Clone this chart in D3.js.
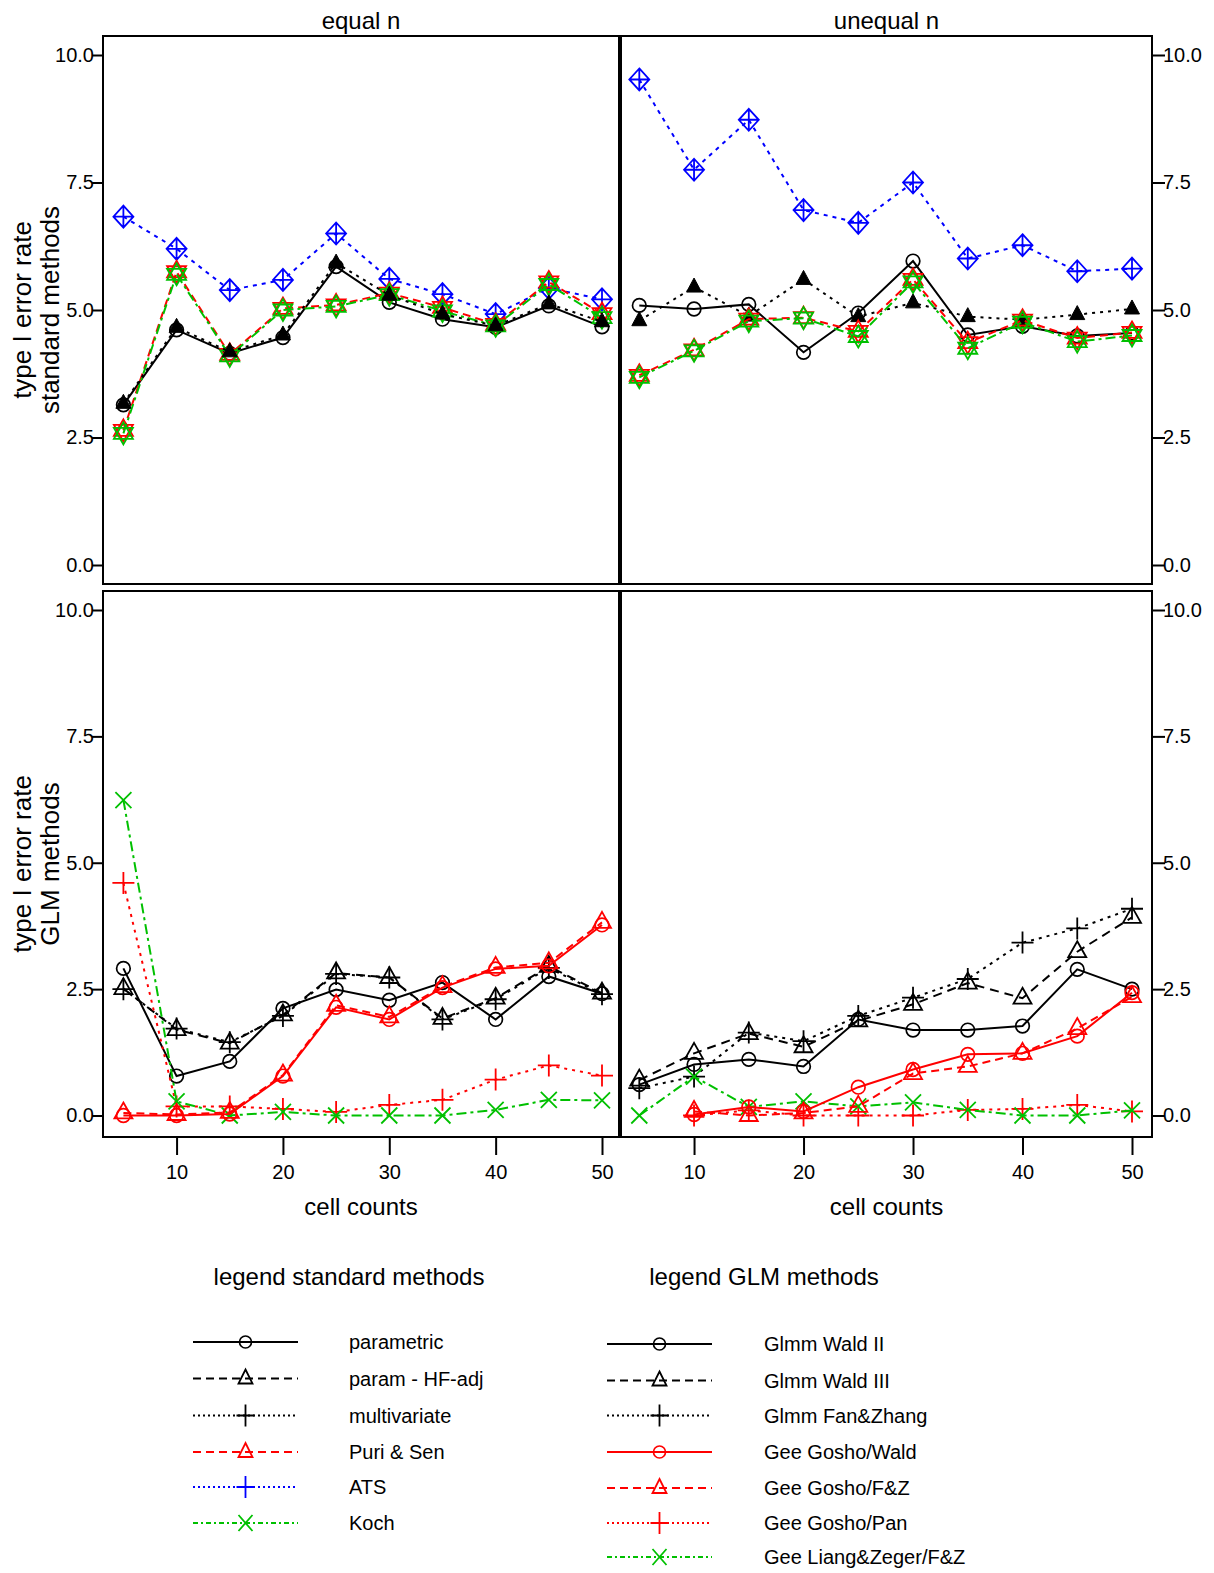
<!DOCTYPE html>
<html>
<head>
<meta charset="utf-8">
<script src="https://cdn.jsdelivr.net/npm/d3@7"></script>
<style>
  body { margin: 0; background: #fff; }
  svg { display: block; font-family: "Liberation Sans", Arial, Helvetica, sans-serif; }
</style>
</head>
<body>
<svg id="chart" width="1214" height="1573"></svg>
<script>
// ---- data -------------------------------------------------------------
const cellCounts = [5, 10, 15, 20, 25, 30, 35, 40, 45, 50];
const yTicks = [0, 2.5, 5, 7.5, 10];
const xTicks = [10, 20, 30, 40, 50];
const panelTitles = ["equal n", "unequal n"];

// standard methods, equal n
const eqParametric   = [3.14, 4.61, 4.15, 4.46, 5.85, 5.15, 4.82, 4.66, 5.08, 4.67];
const eqMultivariate = [3.17, 4.66, 4.18, 4.51, 5.92, 5.29, 4.92, 4.69, 5.12, 4.77];
const eqPuriSen      = [2.64, 5.75, 4.13, 5.03, 5.10, 5.33, 5.05, 4.72, 5.55, 4.93];
const eqATS          = [6.83, 6.20, 5.39, 5.59, 6.50, 5.61, 5.31, 4.92, 5.43, 5.21];
const eqKoch         = [2.58, 5.70, 4.10, 5.00, 5.07, 5.30, 4.98, 4.69, 5.50, 4.85];

// standard methods, unequal n
const uneqParametric   = [5.09, 5.02, 5.11, 4.17, 4.94, 5.96, 4.51, 4.68, 4.49, 4.55];
const uneqMultivariate = [4.79, 5.45, 4.88, 5.60, 4.87, 5.14, 4.87, 4.81, 4.91, 5.02];
const uneqPuriSen      = [3.72, 4.22, 4.82, 4.85, 4.58, 5.60, 4.36, 4.80, 4.45, 4.56];
const uneqATS          = [9.52, 7.75, 8.73, 6.96, 6.71, 7.50, 6.01, 6.27, 5.76, 5.81];
const uneqKoch         = [3.68, 4.20, 4.78, 4.84, 4.48, 5.55, 4.25, 4.76, 4.38, 4.50];

// GLM methods, equal n
const eqWaldII     = [2.91, 0.78, 1.07, 2.12, 2.49, 2.28, 2.63, 1.90, 2.75, 2.41];
const eqWaldIII    = [2.51, 1.70, 1.43, 1.99, 2.82, 2.73, 1.92, 2.32, 2.95, 2.42];
const eqFanZhang   = [2.50, 1.72, 1.45, 1.97, 2.80, 2.73, 1.90, 2.30, 2.92, 2.40];
const eqGoshoWald  = [0.00, 0.00, 0.03, 0.78, 2.14, 1.90, 2.53, 2.90, 2.96, 3.77];
const eqGoshoFZ    = [0.05, 0.02, 0.06, 0.80, 2.18, 1.95, 2.55, 2.93, 3.02, 3.82];
const eqGoshoPan   = [4.60, 0.18, 0.18, 0.13, 0.07, 0.21, 0.31, 0.71, 0.99, 0.79];
const eqLiangZeger = [6.24, 0.28, 0.00, 0.07, 0.00, 0.00, 0.00, 0.11, 0.31, 0.30];

// GLM methods, unequal n
const uneqWaldII     = [0.61, 1.01, 1.11, 0.97, 1.90, 1.69, 1.69, 1.77, 2.89, 2.50];
const uneqWaldIII    = [0.70, 1.23, 1.62, 1.36, 1.87, 2.20, 2.62, 2.32, 3.24, 3.92];
const uneqFanZhang   = [0.54, 0.77, 1.64, 1.47, 1.97, 2.33, 2.70, 3.42, 3.70, 4.09];
const uneqGoshoWald  = [null, 0.02, 0.17, 0.08, 0.56, 0.91, 1.21, 1.23, 1.57, 2.43];
const uneqGoshoFZ    = [null, 0.08, 0.00, 0.05, 0.18, 0.83, 0.97, 1.23, 1.72, 2.35];
const uneqGoshoPan   = [null, 0.00, 0.10, 0.00, 0.00, 0.00, 0.11, 0.13, 0.21, 0.08];
const uneqLiangZeger = [0.00, 0.77, 0.17, 0.28, 0.18, 0.26, 0.11, 0.00, 0.00, 0.10];

const legendStandard = ["parametric", "param - HF-adj", "multivariate", "Puri & Sen", "ATS", "Koch"];
const legendGLM = ["Glmm Wald II", "Glmm Wald III", "Glmm Fan&Zhang", "Gee Gosho/Wald",
                   "Gee Gosho/F&Z", "Gee Gosho/Pan", "Gee Liang&Zeger/F&Z"];

// ---- styles -----------------------------------------------------------
const BLACK = "#000", RED = "#ff0000", GREEN = "#00c000", BLUE = "#0000ff";
const DASH = "9,6", DOT = "3,5", BLUEDOT = "4,5", DASHDOT = "10,4,3,4";

const markerPaths = {
  triOpen: "M0,-10.5L9,5.5L-9,5.5Z",
  triFilled: "M0,-9L7.5,5L-7.5,5Z",
  star: "M0,-11L9.5,5.5L-9.5,5.5ZM0,11L9.5,-5.5L-9.5,-5.5Z",
  diamondPlus: "M0,-11L10,0L0,11L-10,0ZM0,-11V11M-10,0H10",
  plus: "M-11,0H11M0,-11V11",
  cross: "M-8,-8L8,8M-8,8L8,-8",
  legTri: "M0,-9L7,5L-7,5Z",
  legPlus: "M-9,0H9M0,-11V11",
  legCross: "M-7,-8L7,8M-7,8L7,-8"
};

// ---- layout -----------------------------------------------------------
const svg = d3.select("#chart");
const frames = {
  left:  { x0: 103, x1: 619 },
  right: { x0: 621, x1: 1152 },
  top:   { y0: 36, y1: 584 },
  bottom:{ y0: 591, y1: 1137 }
};

const xLeft  = d3.scaleLinear().domain([5, 50]).range([123.4, 602]);
const xRight = d3.scaleLinear().domain([5, 50]).range([639.3, 1132]);
const yTop   = d3.scaleLinear().domain([0, 10]).range([565, 55]);
const yBot   = d3.scaleLinear().domain([0, 10]).range([1115.5, 610]);

const panels = [
  { x: xLeft, y: yTop, col: "left", row: "top", series: [
    { values: eqParametric, color: BLACK, dash: null, marker: "circle" },
    { values: eqATS, color: BLUE, dash: BLUEDOT, marker: "diamondPlus" },
    { values: eqPuriSen, color: RED, dash: "8,5", marker: "star" },
    { values: eqKoch, color: GREEN, dash: DASHDOT, marker: "star" },
    { values: eqMultivariate, color: BLACK, dash: DOT, marker: "triFilled" }
  ]},
  { x: xRight, y: yTop, col: "right", row: "top", series: [
    { values: uneqParametric, color: BLACK, dash: null, marker: "circle" },
    { values: uneqATS, color: BLUE, dash: BLUEDOT, marker: "diamondPlus" },
    { values: uneqMultivariate, color: BLACK, dash: DOT, marker: "triFilled" },
    { values: uneqPuriSen, color: RED, dash: "8,5", marker: "star" },
    { values: uneqKoch, color: GREEN, dash: DASHDOT, marker: "star" }
  ]},
  { x: xLeft, y: yBot, col: "left", row: "bottom", series: [
    { values: eqWaldII, color: BLACK, dash: null, marker: "circle" },
    { values: eqWaldIII, color: BLACK, dash: DASH, marker: "triOpen" },
    { values: eqFanZhang, color: BLACK, dash: DOT, marker: "plus" },
    { values: eqGoshoPan, color: RED, dash: DOT, marker: "plus" },
    { values: eqLiangZeger, color: GREEN, dash: DASHDOT, marker: "cross" },
    { values: eqGoshoFZ, color: RED, dash: "8,5", marker: "triOpen" },
    { values: eqGoshoWald, color: RED, dash: null, marker: "circle" }
  ]},
  { x: xRight, y: yBot, col: "right", row: "bottom", series: [
    { values: uneqWaldII, color: BLACK, dash: null, marker: "circle" },
    { values: uneqWaldIII, color: BLACK, dash: DASH, marker: "triOpen" },
    { values: uneqFanZhang, color: BLACK, dash: DOT, marker: "plus" },
    { values: uneqGoshoPan, color: RED, dash: DOT, marker: "plus" },
    { values: uneqLiangZeger, color: GREEN, dash: DASHDOT, marker: "cross" },
    { values: uneqGoshoFZ, color: RED, dash: "8,5", marker: "triOpen" },
    { values: uneqGoshoWald, color: RED, dash: null, marker: "circle" }
  ]}
];

function drawMarker(g, type, color, r) {
  if (type === "circle") {
    g.append("circle").attr("r", r || 6.8)
      .attr("fill", "none").attr("stroke", color).attr("stroke-width", 1.7);
  } else if (type === "triFilled") {
    g.append("path").attr("d", markerPaths[type]).attr("fill", color).attr("stroke", color).attr("stroke-width", 1);
  } else {
    g.append("path").attr("d", markerPaths[type])
      .attr("fill", "none").attr("stroke", color).attr("stroke-width", 1.8);
  }
}

panels.forEach(p => {
  const g = svg.append("g");
  p.series.forEach(s => {
    const pts = cellCounts.map((c, i) => ({ c, v: s.values[i] }));
    const line = d3.line().defined(d => d.v != null).x(d => p.x(d.c)).y(d => p.y(d.v));
    g.append("path").datum(pts).attr("d", line)
      .attr("fill", "none").attr("stroke", s.color).attr("stroke-width", 2)
      .attr("stroke-dasharray", s.dash);
    pts.filter(d => d.v != null).forEach(d => {
      const m = g.append("g").attr("transform", `translate(${p.x(d.c)},${p.y(d.v)})`);
      drawMarker(m, s.marker, s.color);
    });
  });
  // panel frame
  const fx = frames[p.col], fy = frames[p.row];
  svg.append("rect").attr("x", fx.x0).attr("y", fy.y0)
    .attr("width", fx.x1 - fx.x0).attr("height", fy.y1 - fy.y0)
    .attr("fill", "none").attr("stroke", "#000").attr("stroke-width", 2);
});

// ---- axes -------------------------------------------------------------
function styleAxis(sel, size) {
  sel.select(".domain").remove();
  sel.selectAll(".tick line").attr("stroke", "#000").attr("stroke-width", 2);
  sel.selectAll(".tick text").attr("fill", "#000").style("font-size", size + "px");
}

[yTop, yBot].forEach((ys, k) => {
  const row = k === 0 ? frames.top : frames.bottom;
  svg.append("g").attr("transform", `translate(${frames.left.x0},0)`)
    .call(d3.axisLeft(ys).tickValues(yTicks).tickFormat(d3.format(".1f")).tickSize(11).tickPadding(-2))
    .call(a => styleAxis(a, 20));
  svg.append("g").attr("transform", `translate(${frames.right.x1},0)`)
    .call(d3.axisRight(ys).tickValues(yTicks).tickFormat(d3.format(".1f")).tickSize(13).tickPadding(-2))
    .call(a => styleAxis(a, 20));
});

[xLeft, xRight].forEach(xs => {
  svg.append("g").attr("transform", `translate(0,${frames.bottom.y1})`)
    .call(d3.axisBottom(xs).tickValues(xTicks).tickSize(18).tickPadding(10))
    .call(a => styleAxis(a, 20));
});

// ---- titles and labels -----------------------------------------------
const centers = [(frames.left.x0 + frames.left.x1) / 2, (frames.right.x0 + frames.right.x1) / 2];
panelTitles.forEach((t, i) => {
  svg.append("text").attr("x", centers[i]).attr("y", 29)
    .attr("text-anchor", "middle").style("font-size", "24px").text(t);
  svg.append("text").attr("x", centers[i]).attr("y", 1215)
    .attr("text-anchor", "middle").style("font-size", "24px").text("cell counts");
});

function yLabel(cy, second) {
  const g = svg.append("g").style("font-size", "26px");
  g.append("text").attr("transform", `translate(31,${cy}) rotate(-90)`)
    .attr("text-anchor", "middle").text("type I error rate");
  g.append("text").attr("transform", `translate(59,${cy}) rotate(-90)`)
    .attr("text-anchor", "middle").text(second);
}
yLabel((frames.top.y0 + frames.top.y1) / 2, "standard methods");
yLabel((frames.bottom.y0 + frames.bottom.y1) / 2, "GLM methods");

// ---- legends ----------------------------------------------------------
const legStdStyle = [
  { color: BLACK, dash: null, marker: "circle" },
  { color: BLACK, dash: "8,5", marker: "legTri" },
  { color: BLACK, dash: "2,3", marker: "legPlus" },
  { color: RED, dash: "8,5", marker: "legTri" },
  { color: BLUE, dash: "2,3", marker: "legPlus" },
  { color: GREEN, dash: "5,3,2,3", marker: "legCross" }
];
const legGLMStyle = [
  { color: BLACK, dash: null, marker: "circle" },
  { color: BLACK, dash: "8,5", marker: "legTri" },
  { color: BLACK, dash: "2,3", marker: "legPlus" },
  { color: RED, dash: null, marker: "circle" },
  { color: RED, dash: "8,5", marker: "legTri" },
  { color: RED, dash: "2,3", marker: "legPlus" },
  { color: GREEN, dash: "5,3,2,3", marker: "legCross" }
];

function drawLegend(title, titleX, labels, styles, x0, x1, tx, rowY) {
  svg.append("text").attr("x", titleX).attr("y", 1285)
    .attr("text-anchor", "middle").style("font-size", "24px").text(title);
  labels.forEach((lab, i) => {
    const y = rowY[i], st = styles[i];
    svg.append("line").attr("x1", x0).attr("x2", x1).attr("y1", y).attr("y2", y)
      .attr("stroke", st.color).attr("stroke-width", 2).attr("stroke-dasharray", st.dash);
    const m = svg.append("g").attr("transform", `translate(${(x0 + x1) / 2},${y})`);
    drawMarker(m, st.marker, st.color, 6);
    svg.append("text").attr("x", tx).attr("y", y + 7).style("font-size", "20px").text(lab);
  });
}

drawLegend("legend standard methods", 349, legendStandard, legStdStyle, 193, 298, 349,
  [1342, 1378.5, 1415.5, 1452, 1487, 1523]);
drawLegend("legend GLM methods", 764, legendGLM, legGLMStyle, 607, 712, 764,
  [1344, 1380.5, 1415.5, 1452, 1488, 1523, 1557]);
</script>
</body>
</html>
